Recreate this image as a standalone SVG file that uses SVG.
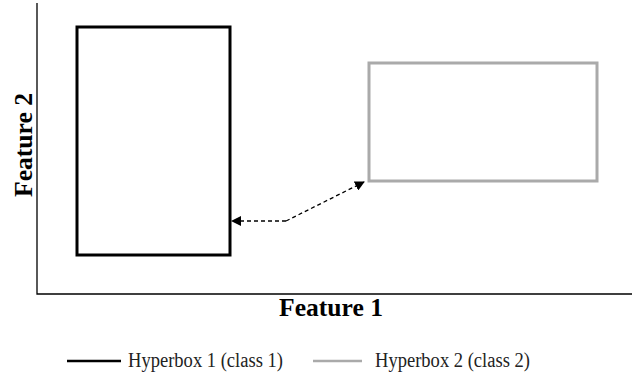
<svg xmlns="http://www.w3.org/2000/svg" width="635" height="380" viewBox="0 0 635 380">
  <defs>
    <marker id="head" viewBox="0 0 10 10" refX="9" refY="5" markerWidth="10" markerHeight="10" markerUnits="userSpaceOnUse" orient="auto">
      <path d="M0,0 L10,5 L0,10 z" fill="#000"/>
    </marker>
    <style>
      .axis { stroke: #000; stroke-width: 1.3; fill: none; }
      .box1 { stroke: #000; stroke-width: 3; fill: none; }
      .box2 { stroke: #aaaaaa; stroke-width: 3; fill: none; }
      .conn { stroke: #000; stroke-width: 1.3; stroke-dasharray: 4 3; fill: none; marker-end: url(#head); }
      .axlabel { font-family: "Liberation Serif", serif; font-weight: bold; font-size: 25px; fill: #000; }
      .legend { font-family: "Liberation Serif", serif; font-size: 20px; fill: #222; }
    </style>
  </defs>
  <rect width="635" height="380" fill="#fff"/>

  <!-- axes -->
  <g id="axes">
    <path class="axis" d="M37,3 V294 H632"/>
    <text class="axlabel" x="331" y="316" text-anchor="middle" textLength="104" lengthAdjust="spacingAndGlyphs">Feature 1</text>
    <text class="axlabel" transform="translate(32,145) rotate(-90)" text-anchor="middle" textLength="104" lengthAdjust="spacingAndGlyphs">Feature 2</text>
  </g>

  <g id="hyperbox1">
    <rect class="box1" x="77" y="27" width="153" height="228"/>
  </g>
  <g id="hyperbox2">
    <rect class="box2" x="369" y="63" width="228" height="118"/>
  </g>

  <!-- distance between the two hyperboxes -->
  <g id="connectors">
    <path class="conn" d="M286,221 H232"/>
    <path class="conn" d="M286,221 L364,182"/>
  </g>

  <g id="legend">
    <line x1="67" y1="361" x2="121" y2="361" stroke="#000" stroke-width="2.5"/>
    <text class="legend" x="128" y="367" textLength="155" lengthAdjust="spacingAndGlyphs">Hyperbox 1 (class 1)</text>
    <line x1="313" y1="361" x2="362" y2="361" stroke="#aaaaaa" stroke-width="2.5"/>
    <text class="legend" x="375" y="367" textLength="155" lengthAdjust="spacingAndGlyphs">Hyperbox 2 (class 2)</text>
  </g>
</svg>
